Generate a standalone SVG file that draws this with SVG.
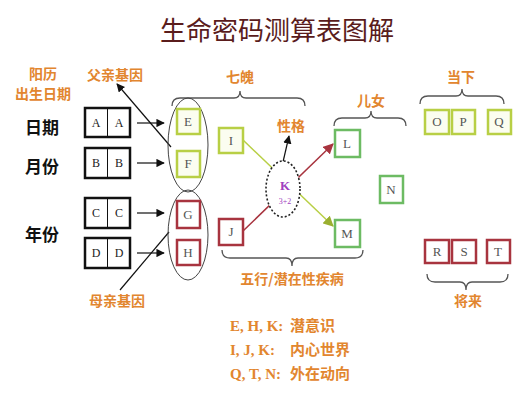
<svg xmlns="http://www.w3.org/2000/svg" width="532" height="400" viewBox="0 0 532 400">
<defs>
<style>
.title{font-family:"Noto Sans CJK SC",sans-serif;font-size:26px;fill:#5a1c1c;text-anchor:middle}
.lbl{font-family:"Noto Sans CJK SC",sans-serif;font-weight:bold;font-size:14px;fill:#e2862f;text-anchor:middle}
.blk{font-family:"Noto Sans CJK SC",sans-serif;font-weight:bold;font-size:17px;fill:#111;text-anchor:middle}
.leg{font-family:"Liberation Serif",serif;font-weight:bold;font-size:15px;fill:#e2862f}
.legc{font-family:"Noto Sans CJK SC",sans-serif;font-weight:bold;font-size:15px;fill:#e2862f}
.cell{fill:#fff;stroke:#111;stroke-width:2.5}
.div{stroke:#111;stroke-width:1}
.let{font-family:"Liberation Serif",serif;font-size:12px;fill:#222;text-anchor:middle}
.yg{fill:#fbfdf0;stroke:#b8cf45;stroke-width:2.5}
.rd{fill:#fff;stroke:#a8343f;stroke-width:2.5}
.gr{fill:#fff;stroke:#6dbb63;stroke-width:2.5}
.bl{font-family:"Liberation Serif",serif;font-size:13px;fill:#555;text-anchor:middle}
.brace{fill:none;stroke:#555;stroke-width:1.3}
.ell{fill:none;stroke:#444;stroke-width:1}
</style>
<marker id="ah" viewBox="0 0 10 10" refX="9" refY="5" markerWidth="7" markerHeight="7" orient="auto"><path d="M0,0 L10,5 L0,10 z" fill="#111"/></marker>
<marker id="ahr" viewBox="0 0 10 10" refX="9" refY="5" markerWidth="7" markerHeight="7" orient="auto"><path d="M0,0 L10,5 L0,10 z" fill="#a8343f"/></marker>
<marker id="ahy" viewBox="0 0 10 10" refX="9" refY="5" markerWidth="7" markerHeight="7" orient="auto"><path d="M0,0 L10,5 L0,10 z" fill="#9aaf30"/></marker>
</defs>
<rect width="532" height="400" fill="#fff"/>

<text class="title" x="277" y="40">生命密码测算表图解</text>

<g id="labels">
<text class="lbl" x="43" y="79">阳历</text>
<text class="lbl" x="43" y="99">出生日期</text>
<text class="lbl" x="115" y="80">父亲基因</text>
<text class="lbl" x="240" y="82">七魄</text>
<text class="lbl" x="461" y="82">当下</text>
<text class="lbl" x="371" y="106">儿女</text>
<text class="lbl" x="291" y="131">性格</text>
<text class="lbl" x="292" y="284">五行/潜在性疾病</text>
<text class="lbl" x="117" y="306">母亲基因</text>
<text class="lbl" x="468" y="306">将来</text>
<text class="blk" x="42" y="134">日期</text>
<text class="blk" x="42" y="173">月份</text>
<text class="blk" x="42" y="241">年份</text>
</g>

<g id="connectors">
<line x1="137" y1="123" x2="164" y2="123" stroke="#111" stroke-width="1.2" marker-end="url(#ah)"/>
<line x1="137" y1="163" x2="164" y2="163" stroke="#111" stroke-width="1.2" marker-end="url(#ah)"/>
<line x1="137" y1="213" x2="164" y2="213" stroke="#111" stroke-width="1.2" marker-end="url(#ah)"/>
<line x1="137" y1="253" x2="164" y2="253" stroke="#111" stroke-width="1.2" marker-end="url(#ah)"/>
<line x1="171" y1="147" x2="117" y2="84" stroke="#111" stroke-width="1.2" marker-end="url(#ah)"/>
<line x1="169" y1="232" x2="120" y2="290" stroke="#111" stroke-width="1.2"/>
<line x1="243" y1="140" x2="333" y2="226" stroke="#b8cf45" stroke-width="1.5" marker-end="url(#ahy)"/>
<line x1="243" y1="231" x2="333" y2="144" stroke="#a8343f" stroke-width="1.5" marker-end="url(#ahr)"/>
<line x1="283" y1="162" x2="289" y2="136" stroke="#111" stroke-width="1.2" marker-end="url(#ah)"/>
</g>

<g id="braces">
<path class="brace" d="M172,106 Q172,98 180,98 L234,98 Q240,98 240,91 Q240,98 246,98 L297,98 Q305,98 305,106"/>
<path class="brace" d="M420,104 Q420,96 428,96 L456,96 Q462,96 462,89 Q462,96 468,96 L496,96 Q504,96 504,104"/>
<path class="brace" d="M334,126 Q334,118 342,118 L365,118 Q371,118 371,111 Q371,118 377,118 L398,118 Q406,118 406,126"/>
<path class="brace" d="M222,250 Q222,258 230,258 L286,258 Q292,258 292,266 Q292,258 298,258 L355,258 Q363,258 363,250"/>
<path class="brace" d="M427,274 Q427,282 435,282 L460,282 Q466,282 466,290 Q466,282 472,282 L500,282 Q508,282 508,274"/>
</g>

<g id="dateA"><rect class="cell" x="85" y="108" width="45" height="29"/><line class="div" x1="107.5" y1="108" x2="107.5" y2="137"/><text class="let" x="96" y="127">A</text><text class="let" x="119" y="127">A</text></g>
<g id="dateB"><rect class="cell" x="85" y="148" width="45" height="30"/><line class="div" x1="107.5" y1="148" x2="107.5" y2="178"/><text class="let" x="96" y="167">B</text><text class="let" x="119" y="167">B</text></g>
<g id="dateC"><rect class="cell" x="85" y="198" width="45" height="30"/><line class="div" x1="107.5" y1="198" x2="107.5" y2="228"/><text class="let" x="96" y="217">C</text><text class="let" x="119" y="217">C</text></g>
<g id="dateD"><rect class="cell" x="85" y="238" width="45" height="30"/><line class="div" x1="107.5" y1="238" x2="107.5" y2="268"/><text class="let" x="96" y="257">D</text><text class="let" x="119" y="257">D</text></g>

<g id="father"><ellipse class="ell" cx="188" cy="145" rx="20" ry="47"/></g>
<g id="mother"><ellipse class="ell" cx="188" cy="235" rx="20" ry="45"/></g>

<g id="E"><rect class="yg" x="177" y="109" width="23" height="25"/><text class="bl" x="188" y="126">E</text></g>
<g id="F"><rect class="yg" x="177" y="151" width="23" height="26"/><text class="bl" x="188" y="168">F</text></g>
<g id="G"><rect class="rd" x="177" y="201" width="23" height="27"/><text class="bl" x="188" y="219">G</text></g>
<g id="H"><rect class="rd" x="177" y="240" width="23" height="25"/><text class="bl" x="188" y="257">H</text></g>

<g id="I"><rect class="yg" x="219" y="128" width="24" height="25"/><text class="bl" x="231" y="145">I</text></g>
<g id="J"><rect class="rd" x="219" y="219" width="24" height="26"/><text class="bl" x="231" y="236">J</text></g>

<g id="K"><ellipse cx="283" cy="189" rx="17" ry="28" fill="#fff" stroke="#222" stroke-width="1.6" stroke-dasharray="2 2"/><text x="285" y="190" font-family="Liberation Serif,serif" font-size="13" font-weight="bold" fill="#a040c0" text-anchor="middle">K</text><text x="285" y="204" font-family="Liberation Serif,serif" font-size="8" fill="#a040c0" text-anchor="middle">3+2</text></g>

<g id="L"><rect class="gr" x="335" y="130" width="25" height="27"/><text class="bl" x="347" y="148">L</text></g>
<g id="M"><rect class="gr" x="335" y="220" width="25" height="27"/><text class="bl" x="347" y="238">M</text></g>
<g id="N"><rect class="gr" x="380" y="176" width="23" height="27"/><text class="bl" x="391" y="194">N</text></g>

<g id="O"><rect class="yg" x="425" y="110" width="24" height="24"/><text class="bl" x="437" y="126">O</text></g>
<g id="P"><rect class="yg" x="452" y="110" width="23" height="24"/><text class="bl" x="463" y="126">P</text></g>
<g id="Q"><rect class="yg" x="488" y="110" width="23" height="24"/><text class="bl" x="499" y="126">Q</text></g>
<g id="R"><rect class="rd" x="425" y="240" width="24" height="23"/><text class="bl" x="437" y="256">R</text></g>
<g id="S"><rect class="rd" x="452" y="240" width="24" height="23"/><text class="bl" x="464" y="256">S</text></g>
<g id="T"><rect class="rd" x="487" y="240" width="23" height="23"/><text class="bl" x="498" y="256">T</text></g>

<g id="legend">
<text class="leg" x="230" y="331">E, H, K:</text><text class="legc" x="290" y="331">潜意识</text>
<text class="leg" x="230" y="355">I, J, K:</text><text class="legc" x="290" y="355">内心世界</text>
<text class="leg" x="230" y="379">Q, T, N:</text><text class="legc" x="290" y="379">外在动向</text>
</g>
</svg>
